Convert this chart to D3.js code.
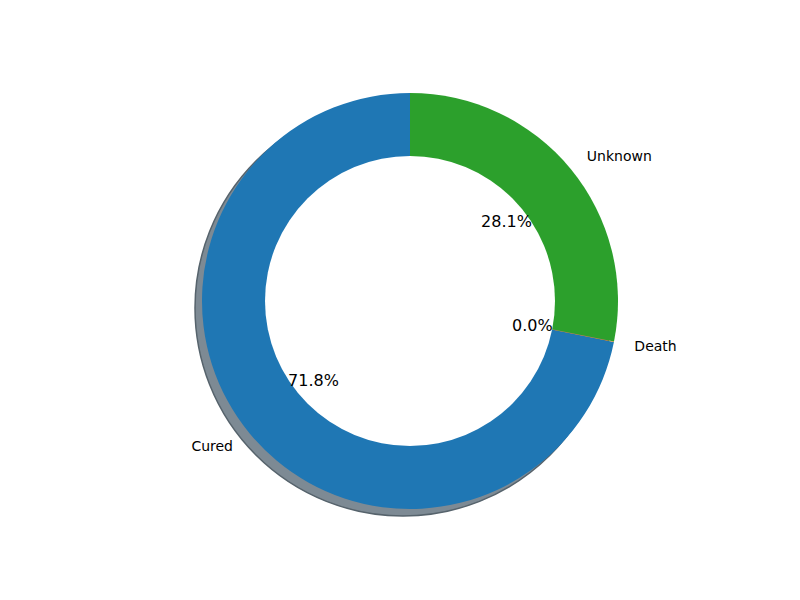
<!DOCTYPE html>
<html><head><meta charset="utf-8">
<script src="https://cdn.jsdelivr.net/npm/d3@7"></script>
<style>body{margin:0;background:#fff}text{font-family:"DejaVu Sans",sans-serif}</style>
</head><body>
<svg id="chart" width="800" height="600"></svg>
<script>
var labels = ["Cured", "Death", "Unknown"];
var values = [71.84, 0.04, 28.12];
var colors = ["#1f77b4", "#ff7f0e", "#2ca02c"];

var svg = d3.select("#chart");
var cx = 410, cy = 301, r = 208, inner = 145;
var total = d3.sum(values);

// counterclockwise from the top, like matplotlib startangle=90
var pie = d3.pie().sort(null).startAngle(0).endAngle(-2 * Math.PI);
var arcs = pie(values);
var arc = d3.arc().innerRadius(0).outerRadius(r);

var g = svg.append("g").attr("transform", "translate(" + cx + "," + cy + ")");

// shadow
g.append("circle").attr("cx", -7).attr("cy", 7).attr("r", r)
    .attr("fill", "#7d8a94").attr("stroke", "#56636c").attr("stroke-width", 1.5);

g.selectAll("path.wedge").data(arcs).enter().append("path")
    .attr("class", "wedge")
    .attr("d", arc)
    .attr("fill", function (d, i) { return colors[i]; });

g.append("circle").attr("r", inner).attr("fill", "#fff");

function pos(d, k) {
    var a = (d.startAngle + d.endAngle) / 2;
    return [Math.sin(a) * r * k, -Math.cos(a) * r * k];
}

g.selectAll("text.lbl").data(arcs).enter().append("text")
    .attr("class", "lbl")
    .attr("x", function (d) { return pos(d, 1.1)[0]; })
    .attr("y", function (d) { return pos(d, 1.1)[1]; })
    .attr("dy", "0.35em")
    .attr("text-anchor", function (d) { return pos(d, 1.1)[0] < 0 ? "end" : "start"; })
    .attr("font-size", 14)
    .text(function (d, i) { return labels[i]; });

g.selectAll("text.pct").data(arcs).enter().append("text")
    .attr("class", "pct")
    .attr("x", function (d) { return pos(d, 0.6)[0]; })
    .attr("y", function (d) { return pos(d, 0.6)[1]; })
    .attr("dy", "0.35em")
    .attr("text-anchor", "middle")
    .attr("font-size", 16)
    .text(function (d) { return (d.value / total * 100).toFixed(1) + "%"; });
</script>
</body></html>
